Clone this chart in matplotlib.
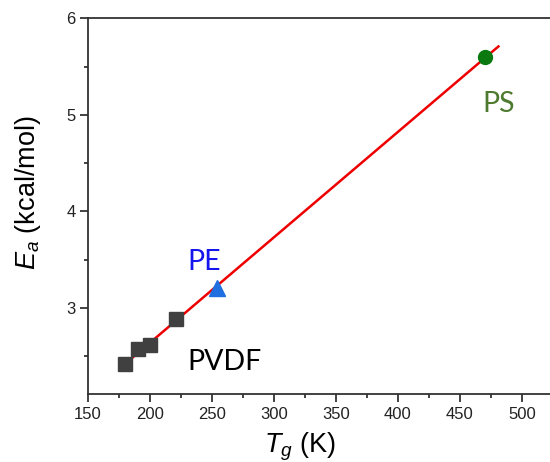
import matplotlib
matplotlib.use("Agg")
import matplotlib.pyplot as plt
from matplotlib.ticker import MultipleLocator

# Data
pvdf_tg = [180, 190, 200, 221]
pvdf_ea = [2.42, 2.57, 2.61, 2.88]
pe_tg = [254]
pe_ea = [3.21]
ps_tg = [470]
ps_ea = [5.60]
fit_tg = [181, 481]
fit_ea = [2.43, 5.71]

x_ticks = [150, 200, 250, 300, 350, 400, 450, 500]
y_ticks = [3, 4, 5, 6]

plt.rcParams['font.family'] = ['Liberation Sans', 'DejaVu Sans']
plt.rcParams['mathtext.fontset'] = 'custom'
plt.rcParams['mathtext.it'] = 'Liberation Sans:italic'
plt.rcParams['mathtext.rm'] = 'Liberation Sans'

fig = plt.figure(figsize=(5.5, 4.62), dpi=100)
ax = fig.add_axes([0.16, 0.147, 0.84, 0.813])

ax.plot(fit_tg, fit_ea, color='#ee0000', lw=1.8, zorder=2)
ax.plot(pvdf_tg, pvdf_ea, 's', color='#404040', ms=9.5, zorder=3)
ax.plot(pe_tg, pe_ea, '^', color='#1f6fe0', ms=11, zorder=3)
ax.plot(ps_tg, ps_ea, 'o', color='#0a7a10', ms=10, zorder=3)

ax.text(259.7, 2.356, 'PVDF', color='black', fontsize=20.5, family='Lato', ha='center', va='baseline')
ax.text(243.5, 3.395, 'PE', color='#1515ee', fontsize=20.5, family='Lato', ha='center', va='baseline')
ax.text(481.5, 5.034, 'PS', color='#4d7a2e', fontsize=20.5, family='Lato', ha='center', va='baseline')

ax.set_xlim(150, 522.6)
ax.set_ylim(2.105, 6.0)
ax.set_xticks(x_ticks)
ax.set_yticks(y_ticks)
ax.xaxis.set_minor_locator(MultipleLocator(25))
ax.yaxis.set_minor_locator(MultipleLocator(0.5))
ax.tick_params(which='major', direction='out', length=6, width=1.2, labelsize=12, colors='#222222', pad=3)
ax.tick_params(which='minor', direction='out', length=3, width=1.2, colors='#222222')

for s in ['left', 'bottom', 'top']:
    ax.spines[s].set_linewidth(1.3)
    ax.spines[s].set_color('#333333')
ax.spines['right'].set_visible(False)

ax.set_xlabel(r'$T_g$ (K)', fontsize=19.5)
ax.set_ylabel(r'$E_a$ (kcal/mol)', fontsize=19.5)
ax.xaxis.set_label_coords(0.459, -0.098)
ax.yaxis.set_label_coords(-0.097, 0.537)

fig.savefig('out.png', dpi=100)
